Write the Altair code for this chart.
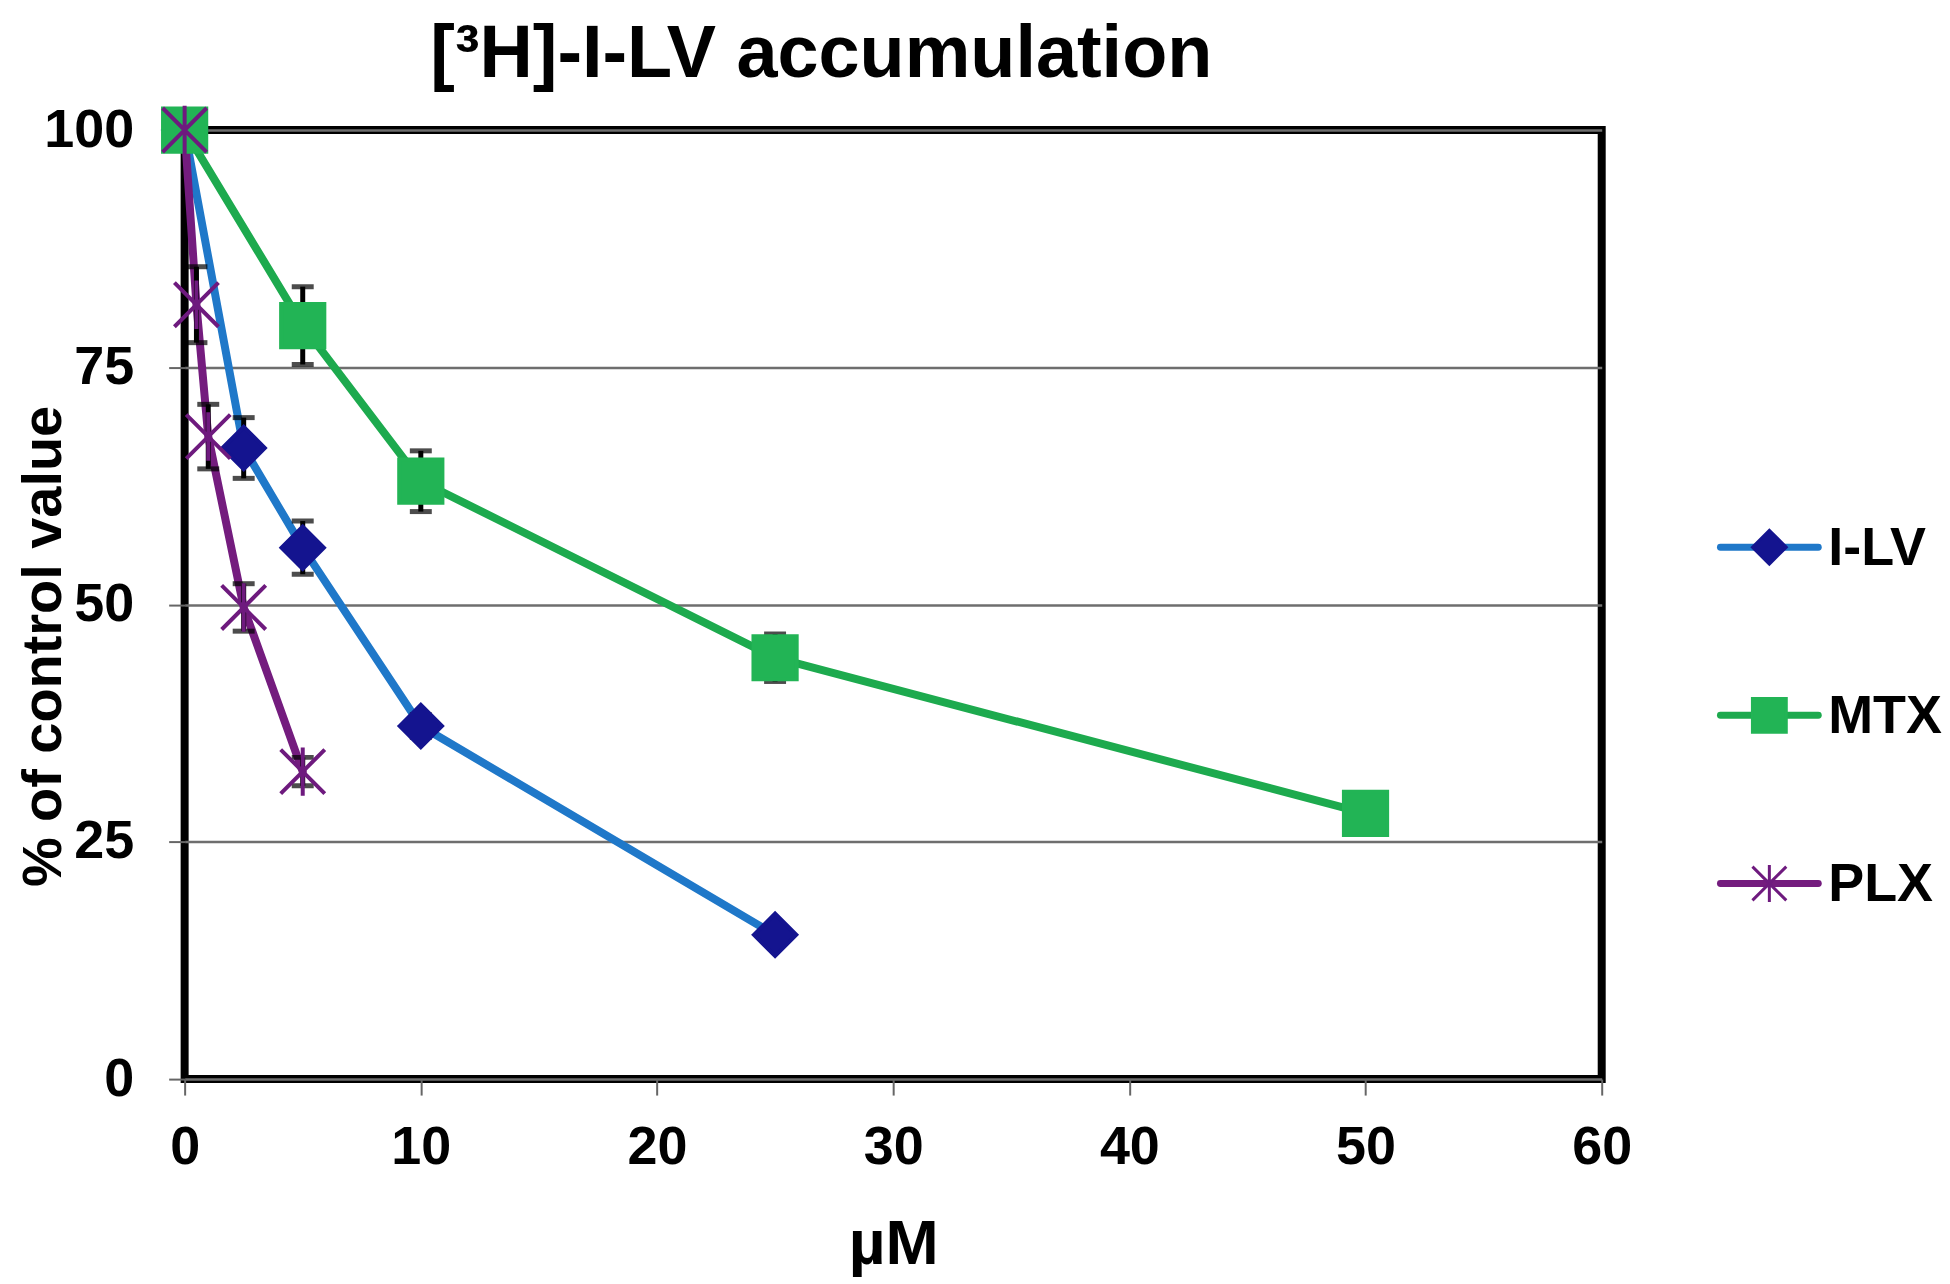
import altair as alt
import pandas as pd

# ---- data ----
series_names = ["I-LV", "MTX", "PLX"]

ilv_conc = [0, 2.5, 5, 10, 25]
ilv_pct = [100, 66.5, 56.0, 37.2, 15.2]
ilv_err = [0, 3.2, 2.8, 1.2, 1.0]

mtx_conc = [0, 5, 10, 25, 50]
mtx_pct = [100, 79.4, 63.0, 44.4, 28.0]
mtx_err = [0, 4.1, 3.2, 2.5, 1.5]

plx_conc = [0, 0.5, 1, 2.5, 5]
plx_pct = [100, 81.6, 67.7, 49.7, 32.4]
plx_err = [0, 4.0, 3.4, 2.5, 1.5]

x_ticks = [0, 10, 20, 30, 40, 50, 60]
y_ticks = [0, 25, 50, 75, 100]

title_text = "[³H]-I-LV accumulation"
x_title = "µM"
y_title = "% of control value"

# ---- build table ----
rows = []
for name, cs, ps, es in [
    ("I-LV", ilv_conc, ilv_pct, ilv_err),
    ("MTX", mtx_conc, mtx_pct, mtx_err),
    ("PLX", plx_conc, plx_pct, plx_err),
]:
    for c, p, e in zip(cs, ps, es):
        rows.append({"series": name, "conc": c, "pct": p, "lo": p - e, "hi": p + e, "err": e})
df = pd.DataFrame(rows)
df_err = df[df["err"] > 0]
legend_df = pd.DataFrame({"series": series_names})

# ---- styles ----
FONT = "Liberation Sans"
line_scale = alt.Scale(domain=series_names, range=["#1F78C9", "#1DAA4E", "#741C7E"])
marker_scale = alt.Scale(domain=series_names, range=["#14148F", "#22B455", "#6E1A7E"])
asterisk = "M-1,-1L1,1M-1,1L1,-1M0,-1.1L0,1.1"
shape_scale = alt.Scale(domain=series_names, range=["diamond", "square", asterisk])
width_scale = alt.Scale(domain=series_names, range=[8, 8, 5])
size_scale = alt.Scale(domain=series_names, range=[1800, 1950, 1700])

x_axis = alt.Axis(
    title=x_title, values=x_ticks, grid=False, domain=False,
    labelFont=FONT, labelFontSize=54, labelFontWeight="bold", labelColor="black",
    labelPadding=26, labelFlush=False,
    titleFont=FONT, titleFontSize=64, titleFontWeight="bold", titleColor="black",
    titlePadding=38,
    tickSize=16, tickColor="#666666", tickWidth=2,
)
y_axis = alt.Axis(
    title=y_title, values=y_ticks, grid=True, gridColor="#6e6e6e", gridWidth=2.5,
    domain=False,
    labelFont=FONT, labelFontSize=54, labelFontWeight="bold", labelColor="black",
    labelPadding=35, labelFlush=False,
    titleFont=FONT, titleFontSize=56, titleFontWeight="bold", titleColor="black",
    titleX=-112, titleY=517,
    tickSize=16, tickColor="#666666", tickWidth=2,
)

xenc = alt.X("conc:Q", scale=alt.Scale(domain=[0, 60], nice=False), axis=x_axis)
yenc = alt.Y("pct:Q", scale=alt.Scale(domain=[0, 100], nice=False), axis=y_axis)

lines = alt.Chart(df).mark_line(interpolate="linear", strokeCap="round", strokeJoin="round").encode(
    x=xenc, y=yenc,
    color=alt.Color("series:N", scale=line_scale, legend=None),
    strokeWidth=alt.StrokeWidth("series:N", scale=width_scale, legend=None),
)

errbars = alt.Chart(df_err).mark_errorbar(ticks=True, thickness=5, size=22, color="black").encode(
    x=xenc,
    y=alt.Y("lo:Q", scale=alt.Scale(domain=[0, 100], nice=False), axis=y_axis),
    y2="hi:Q",
)

points = alt.Chart(df).mark_point(filled=True, opacity=1, strokeWidth=4).encode(
    x=xenc, y=yenc,
    shape=alt.Shape("series:N", scale=shape_scale, legend=None),
    fill=alt.Fill("series:N", scale=marker_scale, legend=None),
    stroke=alt.Stroke("series:N", scale=marker_scale, legend=None),
    size=alt.Size("series:N", scale=size_scale, legend=None),
)

main = alt.layer(lines, errbars, points).properties(
    width=1420, height=951,
    title=alt.TitleParams(
        title_text, font=FONT, fontSize=74, fontWeight="bold", color="black",
        anchor="middle", dx=-72, offset=5,
    ),
    view=alt.ViewBackground(stroke="black", strokeWidth=8),
)

# ---- legend panel ----
ly = alt.Y("series:N", scale=alt.Scale(domain=series_names, range=[418, 755], type="point", padding=0), axis=None)
leg_line = alt.Chart(legend_df).mark_rule(strokeWidth=7, strokeCap="round").encode(
    x=alt.value(0), x2=alt.value(98), y=ly,
    color=alt.Color("series:N", scale=line_scale, legend=None),
)
leg_pt = alt.Chart(legend_df).mark_point(filled=True, opacity=1, strokeWidth=3, size=1150).encode(
    x=alt.value(49), y=ly,
    shape=alt.Shape("series:N", scale=shape_scale, legend=None),
    fill=alt.Fill("series:N", scale=marker_scale, legend=None),
    stroke=alt.Stroke("series:N", scale=marker_scale, legend=None),
)
leg_txt = alt.Chart(legend_df).mark_text(
    align="left", baseline="middle", font=FONT, fontSize=54, fontWeight="bold", color="black", dy=2
).encode(x=alt.value(108), y=ly, text="series:N")

legend = alt.layer(leg_line, leg_pt, leg_txt).properties(
    width=216, height=951,
    view=alt.ViewBackground(stroke=None),
)

chart = alt.hconcat(main, legend, spacing=80).resolve_scale(
    x="independent", y="independent"
).properties(
    padding={"left": 4, "top": 4, "right": 0, "bottom": 0},
    background="white",
)

chart.save("out.html", embed_options={"renderer": "svg", "actions": False})
